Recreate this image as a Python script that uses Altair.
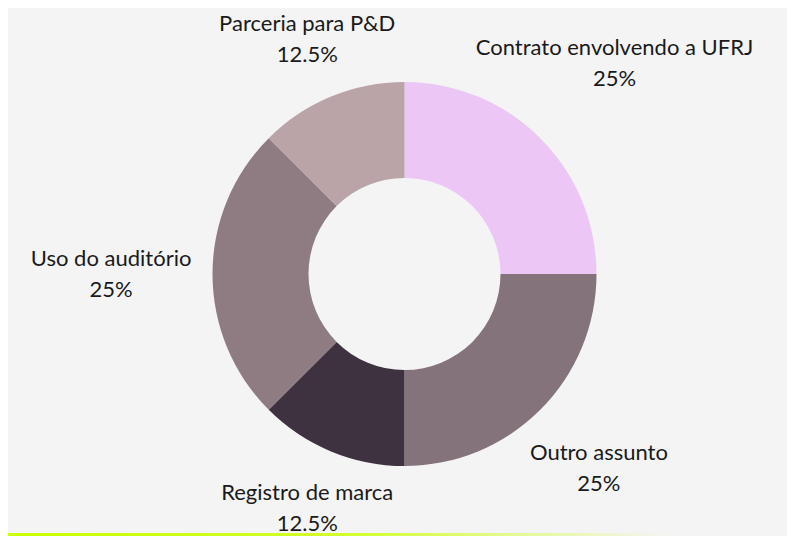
import altair as alt
import pandas as pd

# ---- data ----
categories = [
    "Contrato envolvendo a UFRJ",
    "Outro assunto",
    "Registro de marca",
    "Uso do auditório",
    "Parceria para P&D",
]
shares = [25, 25, 12.5, 25, 12.5]
slice_colors = ["#ecc6f5", "#85737b", "#3e3240", "#8f7c83", "#baa4a7"]

df = pd.DataFrame(
    {
        "categoria": categories,
        "pct": shares,
        "ordem": list(range(len(categories))),
    }
)

base = alt.Chart(df)

arcs = base.mark_arc(outerRadius=192, innerRadius=96).encode(
    theta=alt.Theta("pct:Q", stack=True),
    color=alt.Color(
        "categoria:N",
        scale=alt.Scale(domain=categories, range=slice_colors),
        legend=None,
    ),
    order=alt.Order("ordem:Q"),
)

# labels sit on each slice's mid-angle, pushed out far enough that the
# (approximate) text box clears the ring
labels = (
    base.transform_window(
        cum="sum(pct)", sort=[alt.SortField("ordem")], frame=[None, 0]
    )
    .transform_joinaggregate(total="sum(pct)")
    .transform_calculate(mid="(datum.cum - datum.pct / 2) / datum.total * 2 * PI")
    .transform_calculate(
        dist="197 + abs(sin(datum.mid)) * (58 + 2.4 * length(datum.categoria))"
        " + 21 * abs(cos(datum.mid))",
        rotulo="datum.categoria + '\\n' + datum.pct + '%'",
    )
    .mark_text(
        font="Lato",
        fontSize=22,
        lineHeight=31,
        lineBreak="\n",
        color="#1a1a1a",
        align="center",
        baseline="middle",
        dy=-15.5,
    )
    .encode(
        theta=alt.Theta("mid:Q", scale=None, stack=False),
        radius=alt.Radius("dist:Q", scale=None),
        text="rotulo:N",
    )
)

accent = alt.Chart(pd.DataFrame({"k": [0]})).mark_rect(
    color=alt.LinearGradient(
        gradient="linear",
        stops=[
            alt.GradientStop(color="#ccff00", offset=0),
            alt.GradientStop(color="#d3ff2e", offset=0.45),
            alt.GradientStop(color="#f4f4f4", offset=0.84),
        ],
        x1=0, x2=1, y1=0, y2=0,
    )
).encode(
    x=alt.value(-22), x2=alt.value(773), y=alt.value(521), y2=alt.value(524)
)

chart = (
    alt.layer(arcs, labels, accent)
    .resolve_scale(theta="independent", radius="independent")
    .properties(
        width=765,
        height=524,
        padding={"left": 14, "top": 4, "right": 0, "bottom": 0},
        autosize="none",
        background="#f4f4f4",
    )
    .configure_view(stroke=None)
)

chart.save("out.html", embed_options={"renderer": "svg", "actions": False})
